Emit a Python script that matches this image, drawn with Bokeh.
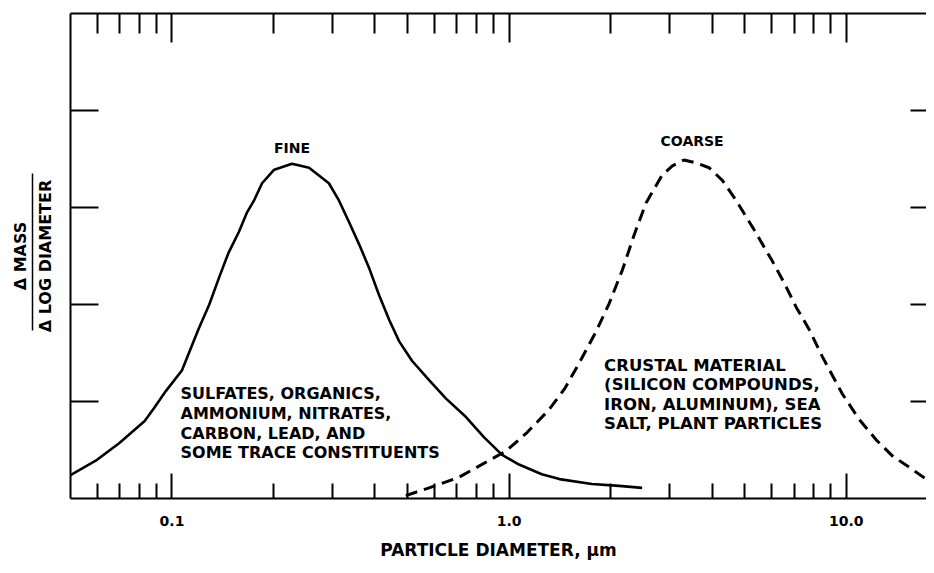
from bokeh.plotting import figure
from bokeh.models import (LogAxis, LinearAxis, FixedTicker, CustomJSTickFormatter,
                          Label)
from bokeh.embed import file_html
from bokeh.resources import INLINE

# ---- data ----
fine_diam = [0.05, 0.0594, 0.0697, 0.083, 0.0884, 0.096, 0.107, 0.120, 0.129, 0.138,
             0.147, 0.158, 0.167, 0.175, 0.185, 0.201, 0.227, 0.255, 0.292, 0.313,
             0.335, 0.359, 0.384, 0.411, 0.441, 0.472, 0.515, 0.579, 0.65, 0.745,
             0.843, 0.953, 1.07, 1.25, 1.41, 1.76, 2.12, 2.48]
fine_mass = [0.24, 0.39, 0.57, 0.80, 0.93, 1.11, 1.32, 1.75, 2.00, 2.28,
             2.53, 2.75, 2.95, 3.07, 3.25, 3.39, 3.45, 3.41, 3.25, 3.07,
             2.85, 2.62, 2.38, 2.10, 1.84, 1.62, 1.42, 1.22, 1.03, 0.84,
             0.63, 0.45, 0.35, 0.25, 0.20, 0.15, 0.13, 0.11]

coarse_diam = [0.494, 0.579, 0.711, 0.98, 1.13, 1.31, 1.46, 1.61, 1.81, 1.98, 2.17,
               2.35, 2.55, 2.84, 3.05, 3.30, 3.59, 3.92, 4.29, 4.72, 5.33, 6.03,
               6.55, 7.11, 7.77, 8.5, 9.73, 10.9, 12.3, 13.7, 15.4, 18.1]
coarse_mass = [0.03, 0.11, 0.22, 0.49, 0.68, 0.91, 1.13, 1.39, 1.72, 2.01, 2.36,
               2.72, 3.05, 3.33, 3.43, 3.49, 3.46, 3.41, 3.28, 3.07, 2.77, 2.45,
               2.22, 1.97, 1.74, 1.46, 1.08, 0.82, 0.60, 0.44, 0.32, 0.15]

x_major_ticks = [0.1, 1.0, 10.0]
x_minor_ticks = [0.06, 0.07, 0.08, 0.09, 0.2, 0.3, 0.4, 0.5, 0.6, 0.7, 0.8, 0.9,
                 2, 3, 4, 5, 6, 7, 8, 9]
y_ticks = [1, 2, 3, 4]

fine_label = "FINE"
coarse_label = "COARSE"
fine_lines = ["SULFATES, ORGANICS,", "AMMONIUM, NITRATES,", "CARBON, LEAD, AND",
              "SOME TRACE CONSTITUENTS"]
coarse_lines = ["CRUSTAL MATERIAL", "(SILICON COMPOUNDS,", "IRON, ALUMINUM), SEA",
                "SALT, PLANT PARTICLES"]
x_title = "PARTICLE DIAMETER, \u03bcm"
y_num = "\u0394 MASS"
y_den = "\u0394 LOG DIAMETER"

FONT = "DejaVu Sans"
INK = "black"

p = figure(width=926, height=565, x_axis_type="log", x_range=(0.05, 17.3),
           y_range=(0, 5), toolbar_location=None, output_backend="svg",
           min_border_left=70, min_border_top=13, min_border_right=0,
           min_border_bottom=67)
p.grid.visible = False
p.outline_line_color = None
p.background_fill_color = "white"

# bottom axis
xa = p.xaxis[0]
xa.ticker = FixedTicker(ticks=x_major_ticks, minor_ticks=x_minor_ticks)
xa.formatter = CustomJSTickFormatter(code="return tick.toFixed(1);")
xa.major_tick_in = 25
xa.major_tick_out = 0
xa.minor_tick_in = 15
xa.minor_tick_out = 0
xa.major_tick_line_width = 2
xa.minor_tick_line_width = 2
xa.axis_line_width = 2
xa.major_label_standoff = 17
xa.major_label_text_font = FONT
xa.major_label_text_font_style = "bold"
xa.major_label_text_font_size = "14px"
xa.major_label_text_color = INK
xa.axis_label = x_title
xa.axis_label_text_font = FONT
xa.axis_label_text_font_style = "bold"
xa.axis_label_text_font_size = "17px"
xa.axis_label_text_color = INK
xa.axis_label_standoff = 11

# top axis
ta = LogAxis(ticker=FixedTicker(ticks=x_major_ticks, minor_ticks=x_minor_ticks),
             formatter=CustomJSTickFormatter(code="return '';"))
ta.major_tick_in = 29
ta.major_tick_out = 0
ta.minor_tick_in = 20
ta.minor_tick_out = 0
ta.major_tick_line_width = 2
ta.minor_tick_line_width = 2
ta.axis_line_width = 2
ta.major_label_standoff = 0
p.add_layout(ta, "above")

# left axis: ticks + denominator of the fraction label
ya = p.yaxis[0]
ya.ticker = FixedTicker(ticks=y_ticks)
ya.formatter = CustomJSTickFormatter(code="return '';")
ya.major_tick_in = 28
ya.major_tick_out = 0
ya.minor_tick_line_color = None
ya.major_tick_line_width = 2
ya.axis_line_width = 2
ya.major_label_standoff = 0
ya.axis_label = y_den
ya.axis_label_text_font = FONT
ya.axis_label_text_font_style = "bold"
ya.axis_label_text_font_size = "16px"
ya.axis_label_text_color = INK
ya.axis_label_standoff = 16

# fraction bar: an axis line restricted by bounds, carrying the numerator
ba = LinearAxis(ticker=FixedTicker(ticks=[]), bounds=(1.73, 3.35),
                formatter=CustomJSTickFormatter(code="return '';"))
ba.major_tick_line_color = None
ba.minor_tick_line_color = None
ba.axis_line_width = 1.5
ba.axis_line_color = INK
ba.major_label_standoff = 0
ba.axis_label = y_num
ba.axis_label_text_font = FONT
ba.axis_label_text_font_style = "bold"
ba.axis_label_text_font_size = "16px"
ba.axis_label_text_color = INK
ba.axis_label_standoff = 3
p.add_layout(ba, "left")

# right axis (ticks only)
ra = LinearAxis(ticker=FixedTicker(ticks=y_ticks),
                formatter=CustomJSTickFormatter(code="return '';"))
ra.major_tick_in = 16
ra.major_tick_out = 0
ra.minor_tick_line_color = None
ra.major_tick_line_width = 2
ra.axis_line_color = None
ra.major_label_standoff = 0
p.add_layout(ra, "right")

# curves
p.line(fine_diam, fine_mass, line_color=INK, line_width=2.6)
p.line(coarse_diam, coarse_mass, line_color=INK, line_width=3, line_dash="12 7")

# labels
p.add_layout(Label(x=0.227, y=3.61, text=fine_label, text_align="center",
                   text_baseline="middle", text_font=FONT, text_font_style="bold",
                   text_font_size="14px", text_color=INK))
p.add_layout(Label(x=3.49, y=3.69, text=coarse_label, text_align="center",
                   text_baseline="middle", text_font=FONT, text_font_style="bold",
                   text_font_size="14px", text_color=INK))

fine_y = [1.08, 0.876, 0.67, 0.474]
for t, yy in zip(fine_lines, fine_y):
    p.add_layout(Label(x=0.106, y=yy, text=t, text_align="left",
                       text_baseline="middle", text_font=FONT,
                       text_font_style="bold", text_font_size="16px",
                       text_color=INK))
coarse_y = [1.37, 1.175, 0.97, 0.773]
for t, yy in zip(coarse_lines, coarse_y):
    p.add_layout(Label(x=1.913, y=yy, text=t, text_align="left",
                       text_baseline="middle", text_font=FONT,
                       text_font_style="bold", text_font_size="16.5px",
                       text_color=INK))

open("out.html", "w").write(file_html(p, INLINE))
